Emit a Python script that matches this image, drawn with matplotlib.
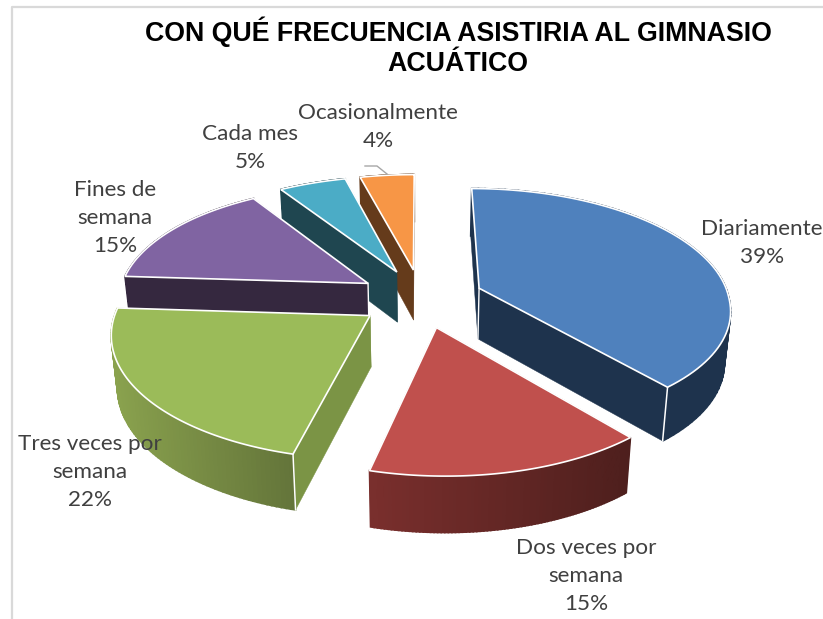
import numpy as np
import matplotlib
matplotlib.use('Agg')
import matplotlib.pyplot as plt
from matplotlib.patches import Polygon

# datos
categorias = ['Diariamente', 'Dos veces por\nsemana', 'Tres veces por\nsemana',
              'Fines de\nsemana', 'Cada mes', 'Ocasionalmente']
porcentajes = [39, 15, 22, 15, 5, 4]
titulo = 'CON QUÉ FRECUENCIA ASISTIRIA AL GIMNASIO\nACUÁTICO'

# estilos
col_top = ['#4F81BD', '#C0504D', '#9BBB59', '#8064A2', '#4BACC6', '#F79646']
col_radial = ['#1E334D', '#4E1F1D', '#7B9445', '#35283F', '#1F4650', '#653B1B']
col_arc_a = ['#1E334D', '#4E1F1D', '#64753A', '#35283F', '#1F4650', '#653B1B']
col_arc_b = ['#1E334D', '#7A2F2D', '#8AA24E', '#35283F', '#1F4650', '#653B1B']
pos_labels = [(762, 243), (586, 576), (90, 472), (115, 218), (250, 148), (378, 127)]
orden = [5, 4, 3, 0, 2, 1]
arista_ext = {0: -1, 2: 0}  # arista vertical blanca exterior
arista_centro = [0, 3]

CX, CY = 421, 298
A, B = 250, 117
K = 0.147
EXPL = 0.25
ALTO = 51
FUGA = 0.98  # la base se estrecha un poco
SESGO = 35   # el punto de fuga no esta en el centro


def proy(u, v):
    s = 1 / (1 + K * v)
    # delante se desplaza a la derecha, detras solo la parte izquierda
    peso = np.where(s >= 1, 1.0, np.clip(-u, 0, 1))
    return CX + A * u * s + SESGO * (s - 1) * peso, CY - B * v * s, s


def base(x, y, s):
    return CX + (x - CX) * FUGA, y + ALTO * np.sqrt(s)


def mezcla(c1, c2, t):
    a = np.array(matplotlib.colors.to_rgb(c1))
    b = np.array(matplotlib.colors.to_rgb(c2))
    return tuple(a + (b - a) * t)


fig = plt.figure(figsize=(8.23, 6.19), dpi=100)
ax = fig.add_axes([0, 0, 1, 1])
ax.set_xlim(0, 823)
ax.set_ylim(619, 0)
ax.axis('off')

# marco del grafico
ax.plot([12, 12, 823], [619, 7, 7], color='#D9D9D9', lw=1.6)

fr = np.array(porcentajes) / sum(porcentajes)
fin = np.cumsum(fr) * 2 * np.pi
ini = fin - fr * 2 * np.pi

for n, i in enumerate(orden):
    z = 2 + n * 3
    t0, t1 = ini[i], fin[i]
    med = (t0 + t1) / 2
    ou, ov = EXPL * np.sin(med), EXPL * np.cos(med)
    th = np.linspace(t0, t1, 80)
    px, py, ps = proy(ou + np.sin(th), ov + np.cos(th))
    bx, by = base(px, py, ps)
    ax0, ay0, as0 = proy(ou, ov)
    bx0, by0 = base(ax0, ay0, as0)

    # paredes radiales
    for j in (0, -1):
        pared = [(ax0, ay0), (px[j], py[j]), (bx[j], by[j]), (bx0, by0)]
        ax.add_patch(Polygon(pared, closed=True, fc=col_radial[i], ec=col_radial[i], lw=0.3, zorder=z))

    # pared exterior con degradado
    xmin, xmax = px.min(), px.max()
    for j in range(len(th) - 1):
        t = (px[j] - xmin) / max(xmax - xmin, 1)
        c = mezcla(col_arc_b[i], col_arc_a[i], t)
        tira = [(px[j], py[j]), (px[j + 1], py[j + 1]), (bx[j + 1], by[j + 1]), (bx[j], by[j])]
        ax.add_patch(Polygon(tira, closed=True, fc=c, ec=c, lw=1.2, zorder=z))

    # aristas verticales
    if i in arista_ext:
        j = arista_ext[i]
        ax.plot([px[j], bx[j]], [py[j], by[j]], color='white', lw=1.1, zorder=z + 0.5)
    if i in arista_centro:
        ax.plot([ax0, bx0], [ay0, by0], color='white', lw=1.0, zorder=z + 0.5)

    # cara superior
    cara = [(ax0, ay0)] + list(zip(px, py))
    ax.add_patch(Polygon(cara, closed=True, fc=col_top[i], ec='white', lw=1.2, joinstyle='miter', zorder=z + 1))

# linea guia de Ocasionalmente
ax.plot([365, 377, 387], [166, 166, 174], color='#A6A6A6', lw=1.0, zorder=40)

for nombre, p, (x, y) in zip(categorias, porcentajes, pos_labels):
    ax.text(x, y, f'{nombre}\n{p}%', ha='center', va='center', family='Lato',
            fontsize=16.2, color='#404040', linespacing=1.5, zorder=50)

ax.text(458, 46.5, titulo, ha='center', va='center', family='Liberation Sans',
        fontweight='bold', fontsize=19.3, color='black', linespacing=1.2, zorder=50)

fig.savefig('out.png', dpi=100)
